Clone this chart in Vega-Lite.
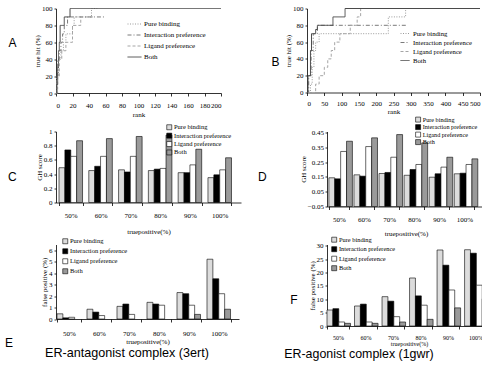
{
 "$schema": "https://vega.github.io/schema/vega-lite/v6.json",
 "padding": {"left": 4, "top": 4.5, "right": 0, "bottom": 0},
 "background": "white",
 "columns": 2,
 "bounds": "flush",
 "spacing": {"row": 38, "column": 86},
 "resolve": {"scale": {"fill": "independent", "stroke": "independent", "strokeDash": "independent"}, "legend": {"fill": "independent", "stroke": "independent", "strokeDash": "independent"}},
 "datasets": {
  "A": [
   {"m":"Pure binding","r":0,"h":0},{"m":"Pure binding","r":1,"h":20},{"m":"Pure binding","r":3,"h":40},{"m":"Pure binding","r":6,"h":50},{"m":"Pure binding","r":9,"h":60},{"m":"Pure binding","r":12,"h":70},{"m":"Pure binding","r":20,"h":80},{"m":"Pure binding","r":22,"h":90},{"m":"Pure binding","r":43,"h":100},{"m":"Pure binding","r":50,"h":100},
   {"m":"Interaction preference","r":0,"h":0},{"m":"Interaction preference","r":1,"h":20},{"m":"Interaction preference","r":2,"h":40},{"m":"Interaction preference","r":4,"h":50},{"m":"Interaction preference","r":6,"h":60},{"m":"Interaction preference","r":8,"h":70},{"m":"Interaction preference","r":10,"h":80},{"m":"Interaction preference","r":14,"h":90},{"m":"Interaction preference","r":60,"h":90},
   {"m":"Ligand preference","r":0,"h":0},{"m":"Ligand preference","r":2,"h":20},{"m":"Ligand preference","r":4,"h":40},{"m":"Ligand preference","r":7,"h":50},{"m":"Ligand preference","r":12,"h":60},{"m":"Ligand preference","r":20,"h":80},{"m":"Ligand preference","r":30,"h":90},{"m":"Ligand preference","r":45,"h":90},
   {"m":"Both","r":0,"h":0},{"m":"Both","r":1,"h":10},{"m":"Both","r":2,"h":30},{"m":"Both","r":3,"h":50},{"m":"Both","r":4,"h":60},{"m":"Both","r":5,"h":80},{"m":"Both","r":10,"h":90},{"m":"Both","r":17,"h":100},{"m":"Both","r":200,"h":100}
  ],
  "B": [
   {"m":"Pure binding","r":0,"h":0},{"m":"Pure binding","r":10,"h":10},{"m":"Pure binding","r":15,"h":30},{"m":"Pure binding","r":20,"h":50},{"m":"Pure binding","r":25,"h":60},{"m":"Pure binding","r":35,"h":70},{"m":"Pure binding","r":190,"h":70},{"m":"Pure binding","r":235,"h":90},{"m":"Pure binding","r":285,"h":100},{"m":"Pure binding","r":290,"h":100},
   {"m":"Interaction preference","r":0,"h":0},{"m":"Interaction preference","r":5,"h":20},{"m":"Interaction preference","r":12,"h":50},{"m":"Interaction preference","r":18,"h":70},{"m":"Interaction preference","r":30,"h":80},{"m":"Interaction preference","r":290,"h":80},
   {"m":"Ligand preference","r":0,"h":0},{"m":"Ligand preference","r":25,"h":10},{"m":"Ligand preference","r":35,"h":20},{"m":"Ligand preference","r":50,"h":30},{"m":"Ligand preference","r":60,"h":40},{"m":"Ligand preference","r":70,"h":50},{"m":"Ligand preference","r":80,"h":60},{"m":"Ligand preference","r":95,"h":70},{"m":"Ligand preference","r":125,"h":80},{"m":"Ligand preference","r":145,"h":90},{"m":"Ligand preference","r":155,"h":100},{"m":"Ligand preference","r":160,"h":100},
   {"m":"Both","r":0,"h":0},{"m":"Both","r":3,"h":20},{"m":"Both","r":10,"h":50},{"m":"Both","r":13,"h":70},{"m":"Both","r":25,"h":75},{"m":"Both","r":30,"h":80},{"m":"Both","r":75,"h":90},{"m":"Both","r":110,"h":100},{"m":"Both","r":500,"h":100}
  ],
  "C": [
   {"t":"50%","m":"Pure binding","v":0.49},{"t":"50%","m":"Interaction preference","v":0.74},{"t":"50%","m":"Ligand preference","v":0.65},{"t":"50%","m":"Both","v":0.87},
   {"t":"60%","m":"Pure binding","v":0.45},{"t":"60%","m":"Interaction preference","v":0.51},{"t":"60%","m":"Ligand preference","v":0.65},{"t":"60%","m":"Both","v":0.90},
   {"t":"70%","m":"Pure binding","v":0.46},{"t":"70%","m":"Interaction preference","v":0.43},{"t":"70%","m":"Ligand preference","v":0.65},{"t":"70%","m":"Both","v":0.93},
   {"t":"80%","m":"Pure binding","v":0.45},{"t":"80%","m":"Interaction preference","v":0.47},{"t":"80%","m":"Ligand preference","v":0.48},{"t":"80%","m":"Both","v":0.95},
   {"t":"90%","m":"Pure binding","v":0.42},{"t":"90%","m":"Interaction preference","v":0.42},{"t":"90%","m":"Ligand preference","v":0.53},{"t":"90%","m":"Both","v":0.75},
   {"t":"100%","m":"Pure binding","v":0.35},{"t":"100%","m":"Interaction preference","v":0.39},{"t":"100%","m":"Ligand preference","v":0.46},{"t":"100%","m":"Both","v":0.63}
  ],
  "D": [
   {"t":"50%","m":"Pure binding","v":0.144},{"t":"50%","m":"Interaction preference","v":0.137},{"t":"50%","m":"Ligand preference","v":0.322},{"t":"50%","m":"Both","v":0.391},
   {"t":"60%","m":"Pure binding","v":0.164},{"t":"60%","m":"Interaction preference","v":0.155},{"t":"60%","m":"Ligand preference","v":0.355},{"t":"60%","m":"Both","v":0.414},
   {"t":"70%","m":"Pure binding","v":0.173},{"t":"70%","m":"Interaction preference","v":0.18},{"t":"70%","m":"Ligand preference","v":0.283},{"t":"70%","m":"Both","v":0.436},
   {"t":"80%","m":"Pure binding","v":0.161},{"t":"80%","m":"Interaction preference","v":0.2},{"t":"80%","m":"Ligand preference","v":0.234},{"t":"80%","m":"Both","v":0.38},
   {"t":"90%","m":"Pure binding","v":0.148},{"t":"90%","m":"Interaction preference","v":0.171},{"t":"90%","m":"Ligand preference","v":0.216},{"t":"90%","m":"Both","v":0.283},
   {"t":"100%","m":"Pure binding","v":0.171},{"t":"100%","m":"Interaction preference","v":0.175},{"t":"100%","m":"Ligand preference","v":0.234},{"t":"100%","m":"Both","v":0.272}
  ],
  "E": [
   {"t":"50%","m":"Pure binding","v":0.45},{"t":"50%","m":"Interaction preference","v":0.1},{"t":"50%","m":"Ligand preference","v":0.15},
   {"t":"60%","m":"Pure binding","v":0.85},{"t":"60%","m":"Interaction preference","v":0.6},{"t":"60%","m":"Ligand preference","v":0.3},
   {"t":"70%","m":"Pure binding","v":1.1},{"t":"70%","m":"Interaction preference","v":1.3},{"t":"70%","m":"Ligand preference","v":0.4},
   {"t":"80%","m":"Pure binding","v":1.45},{"t":"80%","m":"Interaction preference","v":1.3},{"t":"80%","m":"Ligand preference","v":1.2},
   {"t":"90%","m":"Pure binding","v":2.3},{"t":"90%","m":"Interaction preference","v":2.2},{"t":"90%","m":"Ligand preference","v":1.2},{"t":"90%","m":"Both","v":0.4},
   {"t":"100%","m":"Pure binding","v":5.2},{"t":"100%","m":"Interaction preference","v":3.5},{"t":"100%","m":"Ligand preference","v":2.2},{"t":"100%","m":"Both","v":0.85}
  ],
  "F": [
   {"t":"50%","m":"Pure binding","v":6},{"t":"50%","m":"Interaction preference","v":6.5},{"t":"50%","m":"Ligand preference","v":1.5},{"t":"50%","m":"Both","v":1},
   {"t":"60%","m":"Pure binding","v":7.5},{"t":"60%","m":"Interaction preference","v":8.2},{"t":"60%","m":"Ligand preference","v":1.5},{"t":"60%","m":"Both","v":1},
   {"t":"70%","m":"Pure binding","v":11},{"t":"70%","m":"Interaction preference","v":9.3},{"t":"70%","m":"Ligand preference","v":3.5},{"t":"70%","m":"Both","v":1.5},
   {"t":"80%","m":"Pure binding","v":18},{"t":"80%","m":"Interaction preference","v":11.3},{"t":"80%","m":"Ligand preference","v":7.8},{"t":"80%","m":"Both","v":2.5},
   {"t":"90%","m":"Pure binding","v":28.5},{"t":"90%","m":"Interaction preference","v":22.8},{"t":"90%","m":"Ligand preference","v":13.5},{"t":"90%","m":"Both","v":6.8},
   {"t":"100%","m":"Pure binding","v":28.6},{"t":"100%","m":"Interaction preference","v":27.3},{"t":"100%","m":"Ligand preference","v":15.3},{"t":"100%","m":"Both","v":10.2}
  ]
 },
 "concat": [
  {
   "width": 165, "height": 84.5,
   "data": {"name": "A"},
   "title": {"text": "A", "orient": "left", "frame": "group", "angle": 0, "align": "right", "baseline": "middle", "anchor": "middle", "offset": 9, "dy": -7.75},
   "mark": {"type": "line", "interpolate": "step-after", "strokeWidth": 1},
   "encoding": {
    "x": {"field": "r", "type": "quantitative", "scale": {"domain": [0, 200], "nice": false}, "axis": {"title": "rank", "values": [0,20,40,60,80,100,120,140,160,180,200], "tickSize": 3, "labelPadding": 5.5, "titlePadding": 2}},
    "y": {"field": "h", "type": "quantitative", "scale": {"domain": [0, 100]}, "axis": {"title": "true hit (%)", "values": [0,20,40,60,80,100], "tickSize": 2, "labelPadding": 2, "titlePadding": 1}},
    "stroke": {"field": "m", "type": "nominal", "scale": {"domain": ["Pure binding","Interaction preference","Ligand preference","Both"], "range": ["#9a9a9a","#7a7a7a","#a5a5a5","#4a4a4a"]},
     "legend": {"orient": "none", "legendX": 71, "legendY": 8, "title": null, "symbolType": "stroke", "symbolSize": 196, "symbolStrokeWidth": 1, "rowPadding": -8.4, "labelOffset": 2, "labelFontSize": 7}},
    "strokeDash": {"field": "m", "type": "nominal", "scale": {"domain": ["Pure binding","Interaction preference","Ligand preference","Both"], "range": [[1,1.5],[4,2,1,2],[3,2],[1,0]]},
     "legend": {"orient": "none", "legendX": 71, "legendY": 8, "title": null, "symbolType": "stroke", "symbolSize": 196, "symbolStrokeWidth": 1, "rowPadding": -8.4, "labelOffset": 2, "labelFontSize": 7}}
   }
  },
  {
   "width": 153, "height": 84,
   "data": {"name": "B"},
   "title": {"text": "B", "orient": "left", "frame": "group", "angle": 0, "align": "right", "baseline": "middle", "anchor": "middle", "offset": 0, "dx": 3, "dy": 11.5},
   "mark": {"type": "line", "interpolate": "step-after", "strokeWidth": 1},
   "encoding": {
    "x": {"field": "r", "type": "quantitative", "scale": {"domain": [0, 500], "range": [-20, 153], "nice": false}, "axis": {"title": "rank", "values": [0,50,100,150,200,250,300,350,400,450,500], "tickSize": 3, "labelPadding": 4, "titlePadding": 1}},
    "y": {"field": "h", "type": "quantitative", "scale": {"domain": [0, 100]}, "axis": {"title": "true hit (%)", "offset": 20, "values": [0,20,40,60,80,100], "tickSize": 2, "labelPadding": 2, "titlePadding": 1}},
    "stroke": {"field": "m", "type": "nominal", "scale": {"domain": ["Pure binding","Interaction preference","Ligand preference","Both"], "range": ["#9a9a9a","#7a7a7a","#a5a5a5","#4a4a4a"]},
     "legend": {"orient": "none", "legendX": 73, "legendY": 20, "title": null, "symbolType": "stroke", "symbolSize": 81, "symbolStrokeWidth": 1, "rowPadding": -0.6, "labelOffset": 3, "labelFontSize": 6.7}},
    "strokeDash": {"field": "m", "type": "nominal", "scale": {"domain": ["Pure binding","Interaction preference","Ligand preference","Both"], "range": [[1,1.5],[4,2,1,2],[3,2],[1,0]]},
     "legend": {"orient": "none", "legendX": 73, "legendY": 20, "title": null, "symbolType": "stroke", "symbolSize": 81, "symbolStrokeWidth": 1, "rowPadding": -0.6, "labelOffset": 3, "labelFontSize": 6.7}}
   }
  },
  {
   "width": 185, "height": 71,
   "data": {"name": "C"},
   "title": {"text": "C", "orient": "left", "frame": "group", "angle": 0, "align": "right", "baseline": "middle", "anchor": "middle", "offset": 10, "dy": 10},
   "mark": {"type": "bar", "stroke": "black", "strokeWidth": 0.6},
   "encoding": {
    "x": {"field": "t", "type": "nominal", "sort": null, "scale": {"paddingInner": 0.21, "paddingOuter": 0.21, "align": 0.24}, "axis": {"title": "truepositive(%)", "labelAngle": 0, "tickBand": "extent", "tickSize": 3, "labelPadding": 5.5, "titlePadding": 9}},
    "xOffset": {"field": "m", "type": "nominal", "scale": {"domain": ["Pure binding","Interaction preference","Ligand preference","Both"], "paddingInner": 0, "paddingOuter": 0}},
    "y": {"field": "v", "type": "quantitative", "scale": {"domain": [0, 1]}, "axis": {"title": "GH score", "values": [0,0.2,0.4,0.6,0.8,1], "format": "~g", "tickSize": 2, "labelPadding": 2, "titlePadding": 1}},
    "fill": {"field": "m", "type": "nominal", "scale": {"domain": ["Pure binding","Interaction preference","Ligand preference","Both"], "range": ["#dcdcdc","#000000","#ffffff","#9a9a9a"]},
     "legend": {"orient": "none", "legendX": 110, "legendY": -7.5, "title": null, "symbolType": "square", "symbolSize": 25, "symbolStrokeColor": "black", "symbolStrokeWidth": 0.6, "rowPadding": 0.4, "labelOffset": 1.5, "labelFontSize": 6.5}}
   }
  },
  {
   "width": 158, "height": 75,
   "data": {"name": "D"},
   "title": {"text": "D", "orient": "left", "frame": "group", "angle": 0, "align": "right", "baseline": "middle", "anchor": "middle", "offset": 24, "dy": 8},
   "mark": {"type": "bar", "stroke": "black", "strokeWidth": 0.6},
   "encoding": {
    "x": {"field": "t", "type": "nominal", "sort": null, "scale": {"paddingInner": 0.2, "paddingOuter": 0.25, "align": 0.15}, "axis": {"title": "truepositive(%)", "labelAngle": 0, "tickBand": "extent", "tickSize": 3, "labelPadding": 5.5, "titlePadding": 7}},
    "xOffset": {"field": "m", "type": "nominal", "scale": {"domain": ["Pure binding","Interaction preference","Ligand preference","Both"], "paddingInner": 0, "paddingOuter": 0}},
    "y": {"field": "v", "type": "quantitative", "scale": {"domain": [-0.05, 0.4568], "nice": false, "zero": false}, "axis": {"title": "GH score", "values": [-0.05,0.05,0.15,0.25,0.35,0.45], "format": ".2f", "tickSize": 2, "labelPadding": 1.5, "titlePadding": 1}},
    "y2": {"datum": -0.05},
    "fill": {"field": "m", "type": "nominal", "scale": {"domain": ["Pure binding","Interaction preference","Ligand preference","Both"], "range": ["#dcdcdc","#000000","#ffffff","#9a9a9a"]},
     "legend": {"orient": "none", "legendX": 88, "legendY": -15, "title": null, "symbolType": "square", "symbolSize": 25, "symbolStrokeColor": "black", "symbolStrokeWidth": 0.6, "rowPadding": -0.5, "labelOffset": 1.5, "labelFontSize": 6.2}}
   }
  },
  {
   "width": 183, "height": 74.5,
   "data": {"name": "E"},
   "title": {"text": "E", "orient": "left", "frame": "group", "angle": 0, "align": "right", "baseline": "middle", "anchor": "middle", "offset": 19.5, "dy": 61},
   "mark": {"type": "bar", "stroke": "black", "strokeWidth": 0.6},
   "encoding": {
    "x": {"field": "t", "type": "nominal", "sort": null, "scale": {"paddingInner": 0.2, "paddingOuter": 0.15, "align": 0.11}, "axis": {"title": "truepositive(%)", "labelAngle": 0, "tickBand": "extent", "tickSize": 3, "labelPadding": 7.5, "titlePadding": 1}},
    "xOffset": {"field": "m", "type": "nominal", "scale": {"domain": ["Pure binding","Interaction preference","Ligand preference","Both"], "paddingInner": 0, "paddingOuter": 0}},
    "y": {"field": "v", "type": "quantitative", "scale": {"domain": [0, 6.48], "nice": false}, "axis": {"title": "false positive (%)", "values": [0,1,2,3,4,5,6], "tickSize": 2, "labelPadding": 2, "titlePadding": 1}},
    "fill": {"field": "m", "type": "nominal", "scale": {"domain": ["Pure binding","Interaction preference","Ligand preference","Both"], "range": ["#dcdcdc","#000000","#ffffff","#9a9a9a"]},
     "legend": {"orient": "none", "legendX": 6, "legendY": -6.5, "title": null, "symbolType": "square", "symbolSize": 25, "symbolStrokeColor": "black", "symbolStrokeWidth": 0.6, "rowPadding": 2, "labelOffset": 1.5, "labelFontSize": 6.5}}
   }
  },
  {
   "width": 164, "height": 81.5,
   "data": {"name": "F"},
   "title": {"text": "F", "orient": "left", "frame": "group", "angle": 0, "align": "right", "baseline": "middle", "anchor": "middle", "offset": 3, "dy": 15},
   "mark": {"type": "bar", "stroke": "black", "strokeWidth": 0.6},
   "encoding": {
    "x": {"field": "t", "type": "nominal", "sort": null, "scale": {"paddingInner": 0.2, "paddingOuter": 0.08, "align": 0}, "axis": {"title": "truepositive(%)", "labelAngle": 0, "tickBand": "extent", "tickSize": 3, "labelPadding": 5.5, "titlePadding": 0, "labelFontSize": 6, "titleFontSize": 6}},
    "xOffset": {"field": "m", "type": "nominal", "scale": {"domain": ["Pure binding","Interaction preference","Ligand preference","Both"], "paddingInner": 0, "paddingOuter": 0}},
    "y": {"field": "v", "type": "quantitative", "scale": {"domain": [0, 30.56], "nice": false}, "axis": {"title": "false positive (%)", "values": [0,5,10,15,20,25,30], "tickSize": 2, "labelPadding": 2, "titlePadding": 1}},
    "fill": {"field": "m", "type": "nominal", "scale": {"domain": ["Pure binding","Interaction preference","Ligand preference","Both"], "range": ["#dcdcdc","#000000","#ffffff","#9a9a9a"]},
     "legend": {"orient": "none", "legendX": 4, "legendY": -8, "title": null, "symbolType": "square", "symbolSize": 25, "symbolStrokeColor": "black", "symbolStrokeWidth": 0.6, "rowPadding": 1.5, "labelOffset": 1.5, "labelFontSize": 6.4}}
   }
  },
  {
   "width": 142, "height": 1,
   "data": {"values": []},
   "mark": "point",
   "title": {"text": "ER-antagonist complex (3ert)", "orient": "top", "anchor": "middle", "angle": 0, "fontSize": 12.6, "offset": 0, "dy": -5}
  },
  {
   "width": 64, "height": 1,
   "data": {"values": []},
   "mark": "point",
   "title": {"text": "ER-agonist complex (1gwr)", "orient": "top", "anchor": "middle", "angle": 0, "fontSize": 12.4, "offset": 0, "dy": -4}
  }
 ],
 "config": {
  "view": {"stroke": null},
  "font": "Liberation Serif",
  "title": {"font": "Liberation Sans", "fontSize": 12, "fontWeight": "normal", "color": "black"},
  "axis": {"labelFont": "Liberation Serif", "titleFont": "Liberation Serif", "labelFontSize": 7, "titleFontSize": 7, "titleFontWeight": "normal", "labelColor": "black", "titleColor": "black", "domainColor": "black", "tickColor": "black", "domainWidth": 0.8, "tickWidth": 0.8, "grid": false},
  "legend": {"labelFont": "Liberation Serif", "labelColor": "black", "symbolOpacity": 1}
 }
}
